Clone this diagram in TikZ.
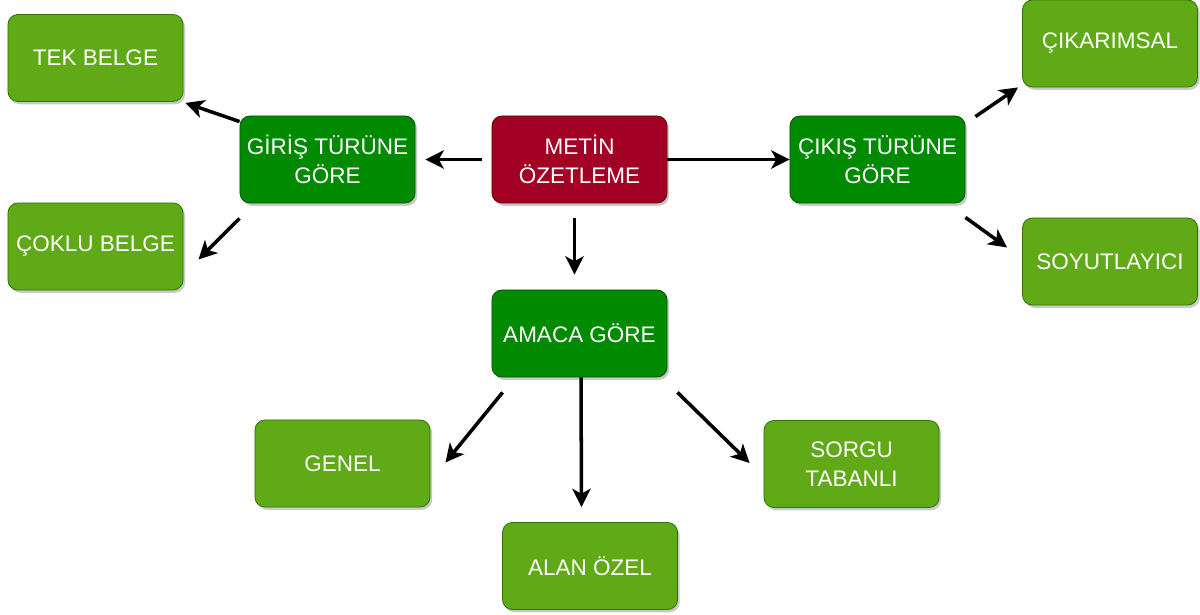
\documentclass[tikz,border=0pt]{standalone}
\usepackage{fontspec}
\setmainfont{Liberation Sans}
\usetikzlibrary{shadows,arrows.meta}
\definecolor{lgfill}{HTML}{60A917}
\definecolor{lgdraw}{HTML}{2D7600}
\definecolor{dgfill}{HTML}{008A00}
\definecolor{dgdraw}{HTML}{005700}
\definecolor{rdfill}{HTML}{A20025}
\definecolor{rddraw}{HTML}{6F0000}
\tikzset{
  box/.style={rectangle, rounded corners=0.25cm, minimum width=4.375cm, minimum height=2.175cm,
    align=center, text=white, font=\fontsize{16}{21}\selectfont, line width=0.6pt,
    drop shadow={shadow xshift=1.5pt, shadow yshift=-2pt, opacity=0.3, fill=black!70}},
  leaf/.style={box, fill=lgfill, draw=lgdraw},
  mid/.style={box, fill=dgfill, draw=dgdraw},
  root/.style={box, fill=rdfill, draw=rddraw},
  arr/.style={line width=2.5pt, draw=black, -{Stealth[length=13pt,width=13pt,inset=3.5pt]}}
}
\begin{document}
\begin{tikzpicture}[x=0.025cm, y=-0.025cm]
\useasboundingbox (0,0) rectangle (1200,615);
\node[leaf] (tek) at (95.5,58) {TEK BELGE};
\node[leaf] (coklu) at (95.5,246.5) {ÇOKLU BELGE};
\node[mid] (giris) at (327.5,159.5) {GİRİŞ TÜRÜNE\\GÖRE};
\node[root] (metin) at (579.5,159.5) {METİN\\ÖZETLEME};
\node[mid] (cikis) at (877.5,159.5) {ÇIKIŞ TÜRÜNE\\GÖRE};
\node[leaf] (cikarimsal) at (1110,43.5) {ÇIKARIMSAL};
\node[leaf] (soyut) at (1110,261.5) {SOYUTLAYICI};
\node[mid] (amaca) at (579.5,333.5) {AMACA GÖRE};
\node[leaf] (genel) at (342.5,463.5) {GENEL};
\node[leaf] (alan) at (590,566) {ALAN ÖZEL};
\node[leaf] (sorgu) at (851.5,464) {SORGU\\TABANLI};

\draw[arr] ([shift={(-10,0)}]metin.west) -- ([shift={(10,0)}]giris.east);
\draw[arr] ([shift={(0,6)}]giris.north west) -- ([shift={(2,1)}]tek.south east);
\draw[arr] ([shift={(0,15)}]giris.south west) -- ([shift={(15,13)}]coklu.east);
\draw[arr] (metin.east) -- (cikis.west);
\draw[arr] ([shift={(10,1)}]cikis.north east) -- ([shift={(-4,0)}]cikarimsal.south west);
\draw[arr] ([shift={(0,14)}]cikis.south east) -- ([shift={(-15,-14)}]soyut.west);
\draw[arr] ([shift={(-5,15)}]metin.south) -- ([shift={(-5,-15)}]amaca.north);
\draw[arr] ([shift={(11,15)}]amaca.south west) -- ([shift={(15,-1)}]genel.east);
\draw[arr] ([shift={(1.5,0)}]amaca.south) -- ([shift={(-8.5,-15)}]alan.north);
\draw[arr] ([shift={(10,15)}]amaca.south east) -- ([shift={(-14,-1)}]sorgu.west);
\end{tikzpicture}
\end{document}
